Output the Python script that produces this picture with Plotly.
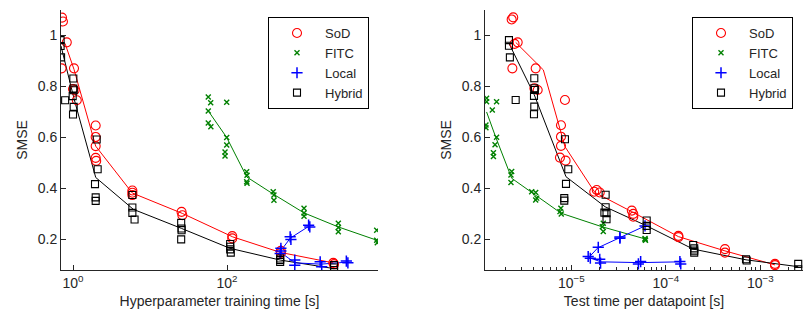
import plotly.graph_objects as go

# ---------------- Left panel: hyperparameter training time ----------------
sod_train = [0.72, 0.74, 0.83, 0.71, 1.03, 1.0, 1.05, 1.12, 1.97, 1.97, 1.97, 1.97, 2.0,
             5.9, 5.9, 5.9, 25.7, 26.3, 117, 117, 500, 500, 2400, 2450]
sod_train_smse = [1.07, 1.055, 0.973, 0.871, 0.871, 0.79, 0.785, 0.746, 0.647, 0.602, 0.566, 0.52, 0.508,
                  0.392, 0.383, 0.374, 0.308, 0.295, 0.213, 0.204, 0.155, 0.147, 0.108, 0.103]
sod_train_line_x = [0.787, 1.03, 1.97, 5.89, 26.3, 118.6, 494, 2399]
sod_train_line_y = [0.969, 0.867, 0.566, 0.382, 0.302, 0.21, 0.149, 0.108]

fitc_train = [57.1, 61.4, 99.1, 57.1, 57.1, 61.7, 99.1, 99.1, 94.2, 94.2, 180, 182, 180, 182,
              398, 407, 407, 1000, 1000, 1000, 2790, 2790, 2790, 8790, 8790, 8950]
fitc_train_smse = [0.759, 0.736, 0.738, 0.704, 0.657, 0.642, 0.6, 0.57, 0.543, 0.527, 0.465, 0.452, 0.426, 0.42,
                   0.387, 0.374, 0.354, 0.322, 0.304, 0.291, 0.263, 0.247, 0.23, 0.236, 0.197, 0.187]
fitc_train_line_x = [57.1, 99.1, 180.3, 398, 1000, 2786, 8790]
fitc_train_line_y = [0.704, 0.6, 0.445, 0.378, 0.304, 0.249, 0.197]

local_train = [501, 501, 490, 661, 676, 1148, 1189, 759, 759, 1622, 1698, 3548, 3715]
local_train_smse = [0.165, 0.155, 0.145, 0.21, 0.2, 0.256, 0.249, 0.119, 0.099, 0.112, 0.093, 0.115, 0.108]
local_train_line1_x = [498, 664, 1161]
local_train_line1_y = [0.155, 0.205, 0.252]
local_train_line2_x = [492, 764, 1663, 3673]
local_train_line2_y = [0.15, 0.108, 0.103, 0.111]

hyb_train = [0.69, 0.69, 0.70, 0.79, 1.01, 1.01, 1.02, 0.99, 1.02, 1.0, 2.03, 2.09, 1.93, 1.97, 1.97,
             5.9, 5.9, 5.9, 6.3, 25.4, 25.7, 25.7, 25.4, 110, 110, 110, 112, 490, 490, 490, 2455, 2455, 2455]
hyb_train_smse = [0.982, 0.959, 0.914, 0.746, 0.831, 0.792, 0.785, 0.762, 0.72, 0.69, 0.592, 0.475, 0.417, 0.365, 0.351,
                  0.374, 0.325, 0.304, 0.278, 0.265, 0.243, 0.236, 0.2, 0.182, 0.171, 0.161, 0.148, 0.125, 0.119, 0.112,
                  0.099, 0.09, 0.08]
hyb_train_line_x = [0.698, 1.035, 1.972, 6.07, 25.7, 109.6, 490, 2399]
hyb_train_line_y = [0.959, 0.75, 0.443, 0.318, 0.243, 0.165, 0.119, 0.086]

# ---------------- Right panel: test time per datapoint ----------------
sod_test = [2.34e-6, 2.43e-6, 2.71e-6, 2.51e-6, 2.38e-6, 4.20e-6, 4.07e-6, 4.41e-6, 8.57e-6, 7.78e-6, 7.78e-6,
            7.78e-6, 7.59e-6, 8.71e-6, 1.75e-5, 1.86e-5, 2.0e-5, 4.37e-5, 4.53e-5, 4.53e-5, 1.36e-4, 1.36e-4,
            4.23e-4, 4.23e-4, 1.43e-3, 1.43e-3]
sod_test_smse = [1.063, 1.071, 0.973, 0.967, 0.871, 0.871, 0.793, 0.786, 0.747, 0.648, 0.603, 0.567, 0.521, 0.509,
                 0.387, 0.394, 0.384, 0.313, 0.3, 0.289, 0.214, 0.209, 0.162, 0.148, 0.104, 0.099]
sod_test_line_x = [2.58e-6, 5.06e-6, 8.57e-6, 1.78e-5, 4.36e-5, 1.36e-4, 4.23e-4, 1.43e-3]
sod_test_line_y = [0.973, 0.865, 0.564, 0.384, 0.309, 0.211, 0.155, 0.1]

fitc_test = [1.27e-6, 1.27e-6, 1.62e-6, 1.46e-6, 1.25e-6, 1.25e-6, 1.62e-6, 1.56e-6, 1.50e-6, 1.50e-6,
             2.34e-6, 2.30e-6, 2.30e-6, 3.81e-6, 4.20e-6, 4.31e-6, 4.20e-6, 7.76e-6, 7.59e-6, 7.83e-6,
             2.18e-5, 2.13e-5, 2.18e-5, 6.03e-5, 6.03e-5, 6.10e-5]
fitc_test_smse = [0.754, 0.74, 0.74, 0.708, 0.649, 0.638, 0.601, 0.571, 0.54, 0.525, 0.466, 0.453, 0.423,
                  0.387, 0.384, 0.362, 0.355, 0.322, 0.309, 0.3, 0.263, 0.25, 0.231, 0.204, 0.2, 0.197]
fitc_test_line_x = [1.27e-6, 1.58e-6, 2.34e-6, 4.13e-6, 7.78e-6, 2.10e-5, 6.03e-5]
fitc_test_line_y = [0.7, 0.603, 0.44, 0.375, 0.303, 0.25, 0.202]

local_test = [1.51e-5, 1.59e-5, 1.93e-5, 3.27e-5, 3.27e-5, 6.03e-5, 2.0e-5, 2.04e-5, 5.13e-5, 5.42e-5, 1.41e-4, 1.44e-4]
local_test_smse = [0.133, 0.126, 0.169, 0.205, 0.209, 0.253, 0.122, 0.107, 0.104, 0.113, 0.113, 0.104]
local_test_line1_x = [1.53e-5, 1.91e-5, 3.27e-5, 6.03e-5]
local_test_line1_y = [0.129, 0.167, 0.207, 0.253]
local_test_line2_x = [1.53e-5, 2.06e-5, 5.27e-5, 1.43e-4]
local_test_line2_y = [0.129, 0.112, 0.109, 0.112]

hyb_test = [2.19e-6, 2.19e-6, 2.24e-6, 2.58e-6, 4.06e-6, 4.06e-6, 4.12e-6, 4.03e-6, 4.06e-6, 4.03e-6,
            8.57e-6, 9.29e-6, 8.79e-6, 8.43e-6, 8.43e-6, 2.31e-5, 2.31e-5, 2.24e-5, 2.36e-5, 2.36e-5,
            6.28e-5, 6.28e-5, 6.28e-5, 1.95e-4, 2.0e-4, 2.0e-4, 2.0e-4, 7.06e-4, 7.18e-4, 2.52e-3, 2.52e-3]
hyb_test_smse = [0.982, 0.96, 0.914, 0.747, 0.832, 0.793, 0.786, 0.763, 0.721, 0.691, 0.593, 0.475, 0.418, 0.362,
                 0.352, 0.375, 0.326, 0.305, 0.303, 0.279, 0.274, 0.253, 0.237, 0.178, 0.165, 0.156, 0.148,
                 0.122, 0.117, 0.104, 0.083]
hyb_test_line_x = [2.19e-6, 4.06e-6, 8.79e-6, 2.28e-5, 6.28e-5, 1.95e-4, 7.06e-4, 2.52e-3]
hyb_test_line_y = [0.969, 0.767, 0.446, 0.328, 0.253, 0.162, 0.12, 0.093]

y_ticks = [0.2, 0.4, 0.6, 0.8, 1]
y_tick_labels = ["0.2", "0.4", "0.6", "0.8", "1"]
train_ticks = [1, 100]
train_tick_labels = ["10<sup>0</sup>", "10<sup>2</sup>"]
test_ticks = [1e-5, 1e-4, 1e-3]
test_tick_labels = ["10<sup>\u22125</sup>", "10<sup>\u22124</sup>", "10<sup>\u22123</sup>"]
test_minor = [k * 10.0 ** e for e in range(-6, -2) for k in range(2, 10)]

RED, GREEN, BLUE, BLACK = "#ff0000", "#008000", "#0000ff", "#000000"
FONT = "Liberation Sans, Arial, Helvetica, sans-serif"
W, H = 803, 314

fig = go.Figure()


def add_panel(xa, ya, leg, sod, fitc, local, hyb):
    line_specs = [sod[2], fitc[2], hyb[2]] + list(local[2])
    for (lx, ly, col) in line_specs:
        fig.add_trace(go.Scatter(x=lx, y=ly, mode="lines", line=dict(color=col, width=1),
                                 xaxis=xa, yaxis=ya, showlegend=False, hoverinfo="skip"))
    specs = [
        ("SoD", sod, dict(symbol="circle-open", size=9, color=RED, line=dict(width=1.1, color=RED))),
        ("FITC", fitc, dict(symbol="x-thin-open", size=5, color=GREEN, line=dict(width=1.4, color=GREEN))),
        ("Local", local, dict(symbol="cross-thin-open", size=8, color=BLUE, line=dict(width=1.5, color=BLUE))),
        ("Hybrid", hyb, dict(symbol="square-open", size=7, color=BLACK, line=dict(width=1.1, color=BLACK))),
    ]
    for name, data, mk in specs:
        fig.add_trace(go.Scatter(x=data[0], y=data[1], mode="markers", name=name, marker=mk,
                                 xaxis=xa, yaxis=ya, legend=leg, showlegend=True))


add_panel("x", "y", "legend",
          (sod_train, sod_train_smse, (sod_train_line_x, sod_train_line_y, RED)),
          (fitc_train, fitc_train_smse, (fitc_train_line_x, fitc_train_line_y, GREEN)),
          (local_train, local_train_smse, [(local_train_line1_x, local_train_line1_y, BLUE),
                                           (local_train_line2_x, local_train_line2_y, BLUE)]),
          (hyb_train, hyb_train_smse, (hyb_train_line_x, hyb_train_line_y, BLACK)))
add_panel("x2", "y2", "legend2",
          (sod_test, sod_test_smse, (sod_test_line_x, sod_test_line_y, RED)),
          (fitc_test, fitc_test_smse, (fitc_test_line_x, fitc_test_line_y, GREEN)),
          (local_test, local_test_smse, [(local_test_line1_x, local_test_line1_y, BLUE),
                                         (local_test_line2_x, local_test_line2_y, BLUE)]),
          (hyb_test, hyb_test_smse, (hyb_test_line_x, hyb_test_line_y, BLACK)))

axis_common = dict(showline=True, linecolor="#262626", linewidth=1, ticks="inside", ticklen=5,
                   tickcolor="#262626", showgrid=False, zeroline=False,
                   tickfont=dict(size=14, color="#262626", family=FONT))
ax_title_font = dict(size=14, color="#262626", family=FONT)

t_top, t_bot = 10, 44
leg_common = dict(xanchor="left", yanchor="top", bordercolor="#000000", borderwidth=1, bgcolor="white",
                  itemwidth=46, font=dict(size=13, color="#262626", family=FONT))
fig.update_layout(
    width=W, height=H,
    margin=dict(l=0, r=0, t=t_top, b=t_bot),
    paper_bgcolor="white", plot_bgcolor="white",
    font=dict(family=FONT, size=14, color="#262626"),
    xaxis=dict(type="log", range=[-0.156, 3.961], domain=[61 / W, 378 / W], anchor="y",
               tickvals=train_ticks, ticktext=train_tick_labels,
               title=dict(text="Hyperparameter training time [s]", font=ax_title_font, standoff=6),
               **axis_common),
    yaxis=dict(range=[0.08, 1.1], domain=[0, 1], anchor="x", tickvals=y_ticks, ticktext=y_tick_labels,
               title=dict(text="SMSE", font=ax_title_font, standoff=6), **axis_common),
    xaxis2=dict(type="log", range=[-5.913, -2.548], domain=[485 / W, 1.0], anchor="y2",
                tickvals=test_ticks, ticktext=test_tick_labels,
                minor=dict(tickvals=test_minor, ticks="inside", ticklen=3, tickcolor="#262626", showgrid=False),
                title=dict(text="Test time per datapoint [s]", font=ax_title_font, standoff=6),
                **axis_common),
    yaxis2=dict(range=[0.08, 1.1], domain=[0, 1], anchor="x2", tickvals=y_ticks, ticktext=y_tick_labels,
                title=dict(text="SMSE", font=ax_title_font, standoff=6), **axis_common),
    legend=dict(x=268 / W, y=1 - (17 - t_top) / (H - t_top - t_bot), **leg_common),
    legend2=dict(x=692 / W, y=1 - (17 - t_top) / (H - t_top - t_bot), **leg_common),
)

fig.write_html("out.html", config={"displayModeBar": False},
               post_script="document.body.style.margin='0px';")
